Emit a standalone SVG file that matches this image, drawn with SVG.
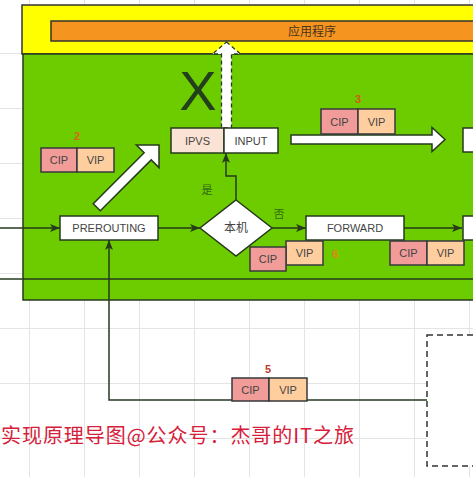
<svg xmlns="http://www.w3.org/2000/svg" width="473" height="477" viewBox="0 0 473 477">
<defs>
<pattern id="grid" patternUnits="userSpaceOnUse" x="29" y="53" width="55" height="55">
<path d="M0,0.5 H55 M0.5,0 V55" fill="none" stroke="#e4e4e4" stroke-width="1"/>
</pattern>
<marker id="ah" viewBox="0 0 10 8" refX="10" refY="4" markerWidth="10" markerHeight="8" markerUnits="userSpaceOnUse" orient="auto">
<path d="M0,0 L10,4 L0,8 L2.5,4 z" fill="#263a1c"/>
</marker>
<style>
.box{fill:#ffffff;stroke:#263a1c;stroke-width:1.5}
.lbl{font-family:"Liberation Sans",Arial,sans-serif;font-size:11px;fill:#444;text-anchor:middle}
.cjk{font-family:"Noto Sans CJK SC","Noto Sans",sans-serif;text-anchor:middle}
.cip{fill:#f19c99;stroke:#36393d;stroke-width:1.5}
.vip{fill:#ffce9f;stroke:#36393d;stroke-width:1.5}
.num{font-family:"Liberation Sans",Arial,sans-serif;font-size:11px;font-weight:bold;text-anchor:middle}
.con{fill:none;stroke:#263a1c;stroke-width:1.5}
.big{fill:#ffffff;stroke:#263a1c;stroke-width:1.5}
</style>
</defs>
<rect x="0" y="0" width="473" height="477" fill="#ffffff"/>
<rect x="0" y="0" width="473" height="477" fill="url(#grid)"/>

<g id="host-yellow"><rect x="22" y="5" width="470" height="49" fill="#ffff00" stroke="#333" stroke-width="1.5"/></g>
<g id="app"><rect x="51" y="21" width="440" height="20" fill="#f5941f" stroke="#333" stroke-width="1.5"/>
<text class="cjk" x="312" y="36" font-size="12" fill="#4a3420">应用程序</text></g>
<g id="kernel-green"><rect x="23" y="54" width="470" height="246" fill="#6dcc00" stroke="#263a1c" stroke-width="1.5"/></g>

<g id="connectors">
<path class="con" d="M0,228 H60" marker-end="url(#ah)"/>
<path class="con" d="M158,228 H200" marker-end="url(#ah)"/>
<path class="con" d="M272,228 H306" marker-end="url(#ah)"/>
<path class="con" d="M404,228 H462" marker-end="url(#ah)"/>
<path class="con" d="M236,200 V176 H226 V153" marker-end="url(#ah)"/>
<path class="con" d="M427,400 H109 V240" marker-end="url(#ah)"/>
<path class="con" d="M0,279 H480"/>
</g>

<g id="arrow-diag"><path class="big" transform="translate(159,145) rotate(-45)" d="M0,0 L-16,-16 L-16,-5 L-88,-5 L-88,5 L-16,5 L-16,16 Z"/></g>
<g id="arrow-right"><path class="big" d="M445,139.5 L432,127.5 L432,135 L291,135 L291,144 L432,144 L432,151.5 Z"/></g>
<g id="arrow-up"><path d="M226.5,42 L240.5,54 L231.5,54 L231.5,128 L221.5,128 L221.5,54 L212.5,54 Z" fill="#ffffff" stroke="#263a1c" stroke-width="1.3" stroke-dasharray="4 3"/></g>
<g id="x-mark"><text x="198" y="110" font-family="Liberation Sans,Arial,sans-serif" font-size="56" fill="#22401c" text-anchor="middle">X</text></g>

<g id="prerouting"><rect class="box" x="60" y="216" width="98" height="24"/><text class="lbl" x="109" y="232">PREROUTING</text></g>
<g id="local"><path d="M236,200 L272,228 L236,256 L200,228 Z" fill="#ffffff" stroke="#263a1c" stroke-width="1.5"/><text class="cjk" x="236" y="232" font-size="12" fill="#444">本机</text></g>
<g id="yes"><text class="cjk" x="207" y="194" font-size="11" fill="#2e6b12">是</text></g>
<g id="no"><text class="cjk" x="279" y="218" font-size="11" fill="#2e6b12">否</text></g>
<g id="ipvs"><rect x="171" y="128" width="53" height="25" fill="#fae3d4" stroke="#263a1c" stroke-width="1.5"/><text class="lbl" x="197.5" y="144.5">IPVS</text></g>
<g id="input"><rect class="box" x="224" y="128" width="54" height="25"/><text class="lbl" x="251" y="144.5">INPUT</text></g>
<g id="forward"><rect class="box" x="306" y="216" width="98" height="24"/><text class="lbl" x="355" y="232">FORWARD</text></g>
<g id="right-top"><rect class="box" x="463" y="128" width="30" height="24"/></g>
<g id="right-mid"><rect class="box" x="463" y="216" width="30" height="24"/></g>
<g id="realserver"><rect x="427" y="335" width="70" height="131" fill="#ffffff" stroke="#333" stroke-width="1.5" stroke-dasharray="6 4"/></g>

<g id="pkt2"><text class="num" x="77" y="140" fill="#d9661a">2</text>
<rect class="cip" x="41" y="148" width="36" height="24"/><text class="lbl" x="59" y="164">CIP</text>
<rect class="vip" x="77" y="148" width="37" height="24"/><text class="lbl" x="95.5" y="164">VIP</text></g>
<g id="pkt3"><text class="num" x="358" y="103" fill="#d25a12">3</text>
<rect class="cip" x="321" y="109" width="37" height="25"/><text class="lbl" x="339.5" y="125.5">CIP</text>
<rect class="vip" x="358" y="109" width="37" height="25"/><text class="lbl" x="376.5" y="125.5">VIP</text></g>
<g id="pkt6"><text class="num" x="335" y="258" fill="#e8801a">6</text>
<rect class="vip" x="286" y="241" width="37" height="24"/><text class="lbl" x="304.5" y="257">VIP</text>
<rect class="cip" x="250" y="247" width="36" height="24"/><text class="lbl" x="268" y="263">CIP</text></g>
<g id="pkt7">
<rect class="cip" x="390" y="241" width="37" height="24"/><text class="lbl" x="408.5" y="257">CIP</text>
<rect class="vip" x="427" y="241" width="37" height="24"/><text class="lbl" x="445.5" y="257">VIP</text></g>
<g id="pkt5"><text class="num" x="268" y="373" fill="#c0392b">5</text>
<rect class="cip" x="232" y="378" width="37" height="23"/><text class="lbl" x="250.5" y="393.5">CIP</text>
<rect class="vip" x="269" y="378" width="38" height="23"/><text class="lbl" x="288" y="393.5">VIP</text></g>

<g id="caption"><text x="1" y="443" font-family="Noto Sans CJK SC,Noto Sans,sans-serif" font-size="20" fill="#d6203a" textLength="353" lengthAdjust="spacing">实现原理导图@公众号：杰哥的IT之旅</text></g>
</svg>
